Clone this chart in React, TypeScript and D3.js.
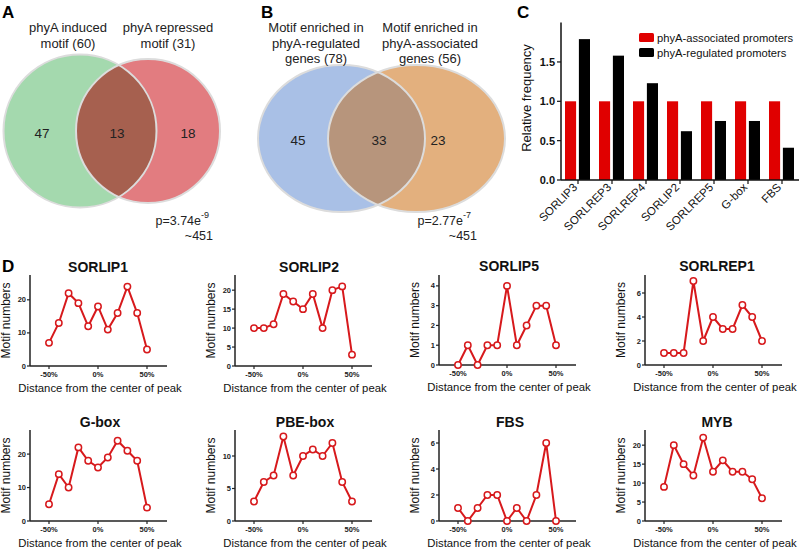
import React from 'react';
import * as d3 from 'd3';

const FONT = '"Liberation Sans", Arial, Helvetica, sans-serif';

// ---------- Panel A / B data ----------
const vennATitles = [['phyA induced', 'motif (60)'], ['phyA repressed', 'motif (31)']];
const vennACounts = [47, 13, 18];
const vennAStats = ['3.74e', '-9', '~451'];
const vennBTitles = [['Motif enriched in', 'phyA-regulated', 'genes (78)'], ['Motif enriched in', 'phyA-associated', 'genes (56)']];
const vennBCounts = [45, 33, 23];
const vennBStats = ['2.77e', '-7', '~451'];

// ---------- Panel C data ----------
const motifsC = ['SORLIP3', 'SORLREP3', 'SORLREP4', 'SORLIP2', 'SORLREP5', 'G-box', 'FBS'];
const associatedC = [1, 1, 1, 1, 1, 1, 1];
const regulatedC = [1.79, 1.58, 1.23, 0.62, 0.75, 0.75, 0.41];
const seriesC = ['phyA-associated promoters', 'phyA-regulated promoters'];
const yTicksC = [0, 0.5, 1.0, 1.5];

// ---------- Panel D data ----------
const distances = [-50, -40, -30, -20, -10, 0, 10, 20, 30, 40, 50];
const distTicks = [-50, 0, 50];
const sorlip1 = [7, 13, 22, 19, 12, 18, 11, 16, 24, 16, 5];
const sorlip2 = [10, 10, 11, 19, 17, 15, 19, 10, 20, 21, 3];
const sorlip5 = [0, 1, 0, 1, 1, 4, 1, 2, 3, 3, 1];
const sorlrep1 = [1, 1, 1, 7, 2, 4, 3, 3, 5, 4, 2];
const gbox = [5, 14, 10, 22, 18, 16, 19, 24, 21, 18, 4];
const pbebox = [3, 6, 7, 13, 7, 10, 11, 10, 12, 6, 3];
const fbs = [1, 0, 1, 2, 2, 0, 1, 0, 2, 6, 0];
const myb = [9, 20, 15, 12, 22, 13, 16, 13, 13, 11, 6];

const RED = '#d7191c';

type SmallCfg = {
  title: string; values: number[]; yMax: number; yTicks: number[];
  ax: number; bottom: number; top: number; titleX: number;
};

const smallCharts: SmallCfg[] = [
  { title: 'SORLIP1', values: sorlip1, yMax: 27.5, yTicks: [0, 10, 20], ax: 30, bottom: 366, top: 275, titleX: 98 },
  { title: 'SORLIP2', values: sorlip2, yMax: 24, yTicks: [0, 5, 10, 15, 20], ax: 235, bottom: 366, top: 275, titleX: 309 },
  { title: 'SORLIP5', values: sorlip5, yMax: 4.55, yTicks: [0, 1, 2, 3, 4], ax: 439, bottom: 365, top: 275, titleX: 509 },
  { title: 'SORLREP1', values: sorlrep1, yMax: 7.5, yTicks: [0, 2, 4, 6], ax: 645, bottom: 365, top: 275, titleX: 717 },
  { title: 'G-box', values: gbox, yMax: 27.2, yTicks: [0, 10, 20], ax: 30, bottom: 521, top: 430, titleX: 100 },
  { title: 'PBE-box', values: pbebox, yMax: 14, yTicks: [0, 5, 10], ax: 235, bottom: 521, top: 430, titleX: 305 },
  { title: 'FBS', values: fbs, yMax: 7, yTicks: [0, 2, 4, 6], ax: 439, bottom: 521, top: 430, titleX: 510 },
  { title: 'MYB', values: myb, yMax: 24, yTicks: [0, 5, 10, 15, 20], ax: 645, bottom: 521, top: 430, titleX: 717 },
];

function SmallChart({ c }: { c: SmallCfg }) {
  const x = d3.scaleLinear().domain([-50, 50]).range([c.ax + 19, c.ax + 117]);
  const y = d3.scaleLinear().domain([0, c.yMax]).range([c.bottom, c.top]);
  const line = d3.line<number>().x((_, i) => x(distances[i])).y((v) => y(v));
  const axEnd = c.ax + 137;
  return (
    <g>
      <text x={c.titleX} y={c.bottom - 94} textAnchor="middle" fontSize={14} fontWeight="bold" fill="#111">{c.title}</text>
      <line x1={c.ax} x2={c.ax} y1={c.top} y2={c.bottom} stroke="#222" strokeWidth={1.5} />
      <line x1={c.ax} x2={axEnd} y1={c.bottom} y2={c.bottom} stroke="#222" strokeWidth={1.5} />
      {c.yTicks.map((t) => (
        <g key={t}>
          <line x1={c.ax - 3} x2={c.ax} y1={y(t)} y2={y(t)} stroke="#222" strokeWidth={1.2} />
          <text x={c.ax - 4} y={y(t) + 2.5} textAnchor="end" fontSize={7.5} fontWeight="bold" fill="#222">{t}</text>
        </g>
      ))}
      {distTicks.map((t) => (
        <g key={t}>
          <line x1={x(t)} x2={x(t)} y1={c.bottom} y2={c.bottom + 3} stroke="#222" strokeWidth={1.2} />
          <text x={x(t)} y={c.bottom + 11} textAnchor="middle" fontSize={7.5} fontWeight="bold" fill="#222">{t + '%'}</text>
        </g>
      ))}
      <text x={c.ax + 70} y={c.bottom + 26} textAnchor="middle" fontSize={11.3} fill="#111">Distance from the center of peak</text>
      <text transform={`translate(${c.ax - 20},${(c.top + c.bottom) / 2}) rotate(-90)`} textAnchor="middle" fontSize={12} fill="#111">Motif numbers</text>
      <path d={line(c.values) || ''} fill="none" stroke={RED} strokeWidth={2} />
      {c.values.map((v, i) => (
        <circle key={i} cx={x(distances[i])} cy={y(v)} r={3.2} fill="#fff" stroke={RED} strokeWidth={1.5} />
      ))}
    </g>
  );
}

function VennA() {
  const g = { cx: 80, cy: 131, r: 76.5 };
  const r = { cx: 148, cy: 131, r: 72 };
  return (
    <g>
      <defs>
        <clipPath id="clipGreen"><circle cx={g.cx} cy={g.cy} r={g.r} /></clipPath>
      </defs>
      <circle cx={g.cx} cy={g.cy} r={g.r} fill="#a4d9ae" />
      <circle cx={r.cx} cy={r.cy} r={r.r} fill="#e27c80" />
      <circle cx={r.cx} cy={r.cy} r={r.r} fill="#a6604f" clipPath="url(#clipGreen)" />
      <circle cx={g.cx} cy={g.cy} r={g.r} fill="none" stroke="#dcdcdc" strokeWidth={2} />
      <circle cx={r.cx} cy={r.cy} r={r.r} fill="none" stroke="#dcdcdc" strokeWidth={2} />
      {vennATitles[0].map((t, i) => <text key={i} x={68} y={32 + i * 16} textAnchor="middle" fontSize={13} fill="#222">{t}</text>)}
      {vennATitles[1].map((t, i) => <text key={i} x={168} y={32 + i * 16} textAnchor="middle" fontSize={13} fill="#222">{t}</text>)}
      <text x={42} y={138} textAnchor="middle" fontSize={13.5} fill="#222">{vennACounts[0]}</text>
      <text x={117} y={138} textAnchor="middle" fontSize={13.5} fill="#222">{vennACounts[1]}</text>
      <text x={188} y={138} textAnchor="middle" fontSize={13.5} fill="#222">{vennACounts[2]}</text>
      <text x={201} y={225} textAnchor="end" fontSize={12.5} fill="#222">{'p=' + vennAStats[0]}</text>
      <text x={201} y={218} fontSize={9} fill="#222">{vennAStats[1]}</text>
      <text x={213} y={240} textAnchor="end" fontSize={12.5} fill="#222">{vennAStats[2]}</text>
    </g>
  );
}

function VennB() {
  const b = { cx: 341.5, cy: 138.5, rx: 83.5, ry: 73.5 };
  const o = { cx: 416.5, cy: 138.5, rx: 88.5, ry: 73.5 };
  return (
    <g>
      <defs>
        <clipPath id="clipBlue"><ellipse cx={b.cx} cy={b.cy} rx={b.rx} ry={b.ry} /></clipPath>
      </defs>
      <ellipse cx={b.cx} cy={b.cy} rx={b.rx} ry={b.ry} fill="#a9c0e6" />
      <ellipse cx={o.cx} cy={o.cy} rx={o.rx} ry={o.ry} fill="#e3b07e" />
      <ellipse cx={o.cx} cy={o.cy} rx={o.rx} ry={o.ry} fill="#b7957c" clipPath="url(#clipBlue)" />
      <ellipse cx={b.cx} cy={b.cy} rx={b.rx} ry={b.ry} fill="none" stroke="#dcdcdc" strokeWidth={2} />
      <ellipse cx={o.cx} cy={o.cy} rx={o.rx} ry={o.ry} fill="none" stroke="#dcdcdc" strokeWidth={2} />
      {vennBTitles[0].map((t, i) => <text key={i} x={316} y={32 + i * 15.5} textAnchor="middle" fontSize={13} fill="#222">{t}</text>)}
      {vennBTitles[1].map((t, i) => <text key={i} x={430} y={32 + i * 15.5} textAnchor="middle" fontSize={13} fill="#222">{t}</text>)}
      <text x={298} y={145} textAnchor="middle" fontSize={13.5} fill="#222">{vennBCounts[0]}</text>
      <text x={379} y={145} textAnchor="middle" fontSize={13.5} fill="#222">{vennBCounts[1]}</text>
      <text x={438} y={145} textAnchor="middle" fontSize={13.5} fill="#222">{vennBCounts[2]}</text>
      <text x={463} y={225} textAnchor="end" fontSize={12.5} fill="#222">{'p=' + vennBStats[0]}</text>
      <text x={463} y={218} fontSize={9} fill="#222">{vennBStats[1]}</text>
      <text x={477} y={240} textAnchor="end" fontSize={12.5} fill="#222">{vennBStats[2]}</text>
    </g>
  );
}

function BarsC() {
  const x = d3.scaleBand<string>().domain(motifsC).range([561, 799]).padding(0);
  const sub = d3.scaleBand<string>().domain(['a', 'r']).range([4, 29]).paddingInner(0.2);
  const y = d3.scaleLinear().domain([0, 2]).range([180, 22.6]);
  const colors = ['#e00000', '#000000'];
  return (
    <g>
      {motifsC.map((m, i) => (
        <g key={m}>
          <rect x={(x(m) || 0) + (sub('a') || 0)} y={y(associatedC[i])} width={sub.bandwidth()} height={y(0) - y(associatedC[i])} fill={colors[0]} />
          <rect x={(x(m) || 0) + (sub('r') || 0)} y={y(regulatedC[i])} width={sub.bandwidth()} height={y(0) - y(regulatedC[i])} fill={colors[1]} />
          <line x1={(x(m) || 0) + 17} x2={(x(m) || 0) + 17} y1={180} y2={184} stroke="#111" strokeWidth={1.2} />
          <text transform={`translate(${(x(m) || 0) + 17},${188}) rotate(-45)`} textAnchor="end" fontSize={11.5} fill="#111">{m}</text>
        </g>
      ))}
      <line x1={561} x2={561} y1={22.6} y2={180} stroke="#111" strokeWidth={1.5} />
      <line x1={561} x2={799} y1={180} y2={180} stroke="#111" strokeWidth={1.5} />
      {yTicksC.map((t) => (
        <g key={t}>
          <line x1={557} x2={561} y1={y(t)} y2={y(t)} stroke="#111" strokeWidth={1.2} />
          <text x={555} y={y(t) + 4} textAnchor="end" fontSize={11} fontWeight="bold" fill="#111">{t.toFixed(1)}</text>
        </g>
      ))}
      <text transform="translate(531,98) rotate(-90)" textAnchor="middle" fontSize={13} fill="#111">Relative frequency</text>
      {seriesC.map((s, i) => (
        <g key={s}>
          <rect x={639} y={33 + i * 15} width={15} height={9} rx={1.5} fill={colors[i]} />
          <text x={657} y={41.5 + i * 15} fontSize={11.2} fill="#111">{s}</text>
        </g>
      ))}
    </g>
  );
}

export default function App() {
  return (
    <svg width={799} height={550} style={{ position: 'absolute', left: 0, top: 0, background: '#fff' }} fontFamily={FONT}>
      <rect x={0} y={0} width={799} height={550} fill="#fff" />
      <text x={2} y={18} fontSize={17} fontWeight="bold" fill="#000">A</text>
      <text x={261} y={18} fontSize={17} fontWeight="bold" fill="#000">B</text>
      <text x={517} y={18} fontSize={17} fontWeight="bold" fill="#000">C</text>
      <text x={2} y={272} fontSize={17} fontWeight="bold" fill="#000">D</text>
      <VennA />
      <VennB />
      <BarsC />
      {smallCharts.map((c) => <SmallChart key={c.title} c={c} />)}
    </svg>
  );
}
